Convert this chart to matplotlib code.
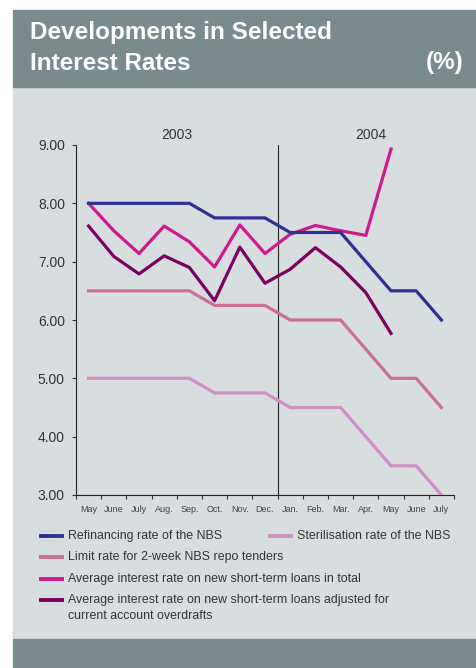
import matplotlib.pyplot as plt
from matplotlib.patches import Rectangle
import numpy as np

plt.rcParams['font.family'] = ['Liberation Sans', 'DejaVu Sans']

months = ['May', 'June', 'July', 'Aug.', 'Sep.', 'Oct.', 'Nov.', 'Dec.',
          'Jan.', 'Feb.', 'Mar.', 'Apr.', 'May', 'June', 'July']

refinancing = [8.00, 8.00, 8.00, 8.00, 8.00, 7.75, 7.75, 7.75,
               7.50, 7.50, 7.50, 7.00, 6.50, 6.50, 6.00]
sterilisation = [5.00, 5.00, 5.00, 5.00, 5.00, 4.75, 4.75, 4.75,
                 4.50, 4.50, 4.50, 4.00, 3.50, 3.50, 3.00]
limit_rate = [6.50, 6.50, 6.50, 6.50, 6.50, 6.25, 6.25, 6.25,
              6.00, 6.00, 6.00, 5.50, 5.00, 5.00, 4.50]
loans_total = [8.00, 7.53, 7.14, 7.61, 7.34, 6.91, 7.63, 7.14,
               7.47, 7.62, 7.53, 7.45, 8.93]
loans_adjusted = [7.61, 7.09, 6.79, 7.10, 6.90, 6.33, 7.25, 6.63,
                  6.87, 7.24, 6.91, 6.47, 5.77]

years = ['2003', '2004']

header_col = '#7a8b8d'
panel_col = '#d8dde0'

fig = plt.figure(figsize=(4.77, 6.68), dpi=100)

# background blocks
fig.patches.append(Rectangle((13 / 477, 0.0434), 1, 0.8698 - 0.0434,
                             transform=fig.transFigure, color=panel_col, zorder=-5))
fig.patches.append(Rectangle((13 / 477, 0.8698), 1, 0.985 - 0.8698,
                             transform=fig.transFigure, color=header_col, zorder=-5))
fig.patches.append(Rectangle((13 / 477, 0), 1, 0.0434,
                             transform=fig.transFigure, color=header_col, zorder=-5))

fig.text(30 / 477, 1 - 32 / 668, 'Developments in Selected', color='white',
         fontsize=17.5, fontweight='bold', va='center', ha='left')
fig.text(30 / 477, 1 - 63 / 668, 'Interest Rates', color='white',
         fontsize=17.5, fontweight='bold', va='center', ha='left')
fig.text(464 / 477, 1 - 63 / 668, '(%)', color='white',
         fontsize=17.5, fontweight='bold', va='center', ha='right')

ax = fig.add_axes([76 / 477, 1 - 495 / 668, (454 - 76) / 477, (495 - 145) / 668])
ax.set_facecolor('none')
ax.set_zorder(2)

x = np.arange(len(months))
lw = 2.3
ax.plot(x, refinancing, color='#2e3192', lw=lw, label='Refinancing rate of the NBS', zorder=5)
ax.plot(x, sterilisation, color='#d18fc4', lw=lw, label='Sterilisation rate of the NBS', zorder=3)
ax.plot(x, limit_rate, color='#cc6e96', lw=lw, label='Limit rate for 2-week NBS repo tenders', zorder=3)
ax.plot(x[:len(loans_total)], loans_total, color='#d0198c', lw=lw,
        label='Average interest rate on new short-term loans in total', zorder=4)
ax.plot(x[:len(loans_adjusted)], loans_adjusted, color='#7b0060', lw=lw,
        label='Average interest rate on new short-term loans adjusted for', zorder=4)

ax.axvline(7.5, color='#222222', lw=0.8, zorder=2)

ax.set_xlim(-0.5, 14.5)
ax.set_ylim(3, 9)
ax.set_yticks(np.arange(3, 9.01, 1))
ax.set_yticklabels(['%.2f' % v for v in np.arange(3, 9.01, 1)], fontsize=10, color='#333333')
ax.set_xticks(x)
ax.set_xticklabels(months, fontsize=6.5, color='#444444')
ax.set_xticks(np.arange(-0.5, 14.6, 1), minor=True)
ax.tick_params(axis='x', which='major', length=0, pad=7)
ax.tick_params(axis='x', which='minor', length=3, width=0.8, color='#333333')
ax.tick_params(axis='y', length=3, width=0.8, color='#333333', pad=5)

for side in ['top', 'right']:
    ax.spines[side].set_visible(False)
for side in ['left', 'bottom']:
    ax.spines[side].set_color('#222222')
    ax.spines[side].set_linewidth(0.8)

ax.text(3.5, 9.18, years[0], ha='center', va='center', fontsize=10, color='#333333')
ax.text(11.2, 9.18, years[1], ha='center', va='center', fontsize=10, color='#333333')

# legend laid out by hand in two columns
handles, labels = ax.get_legend_handles_labels()
order = [0, 2, 3, 4]
rows_y = [536, 557, 579, 600]
for i, row in zip(order, rows_y):
    yf = 1 - row / 668
    fig.add_artist(plt.Line2D([41 / 477, 62 / 477], [yf, yf], color=handles[i].get_color(),
                              lw=2.8, transform=fig.transFigure))
    fig.text(68 / 477, yf, labels[i], fontsize=8.9, color='#333333', va='center', ha='left')
fig.text(68 / 477, 1 - 616 / 668, 'current account overdrafts', fontsize=8.9,
         color='#333333', va='center', ha='left')
yf = 1 - 536 / 668
fig.add_artist(plt.Line2D([270 / 477, 291 / 477], [yf, yf], color=handles[1].get_color(),
                          lw=2.8, transform=fig.transFigure))
fig.text(297 / 477, yf, labels[1], fontsize=8.9, color='#333333', va='center', ha='left')

fig.savefig('out.png', dpi=100)
plt.close()
